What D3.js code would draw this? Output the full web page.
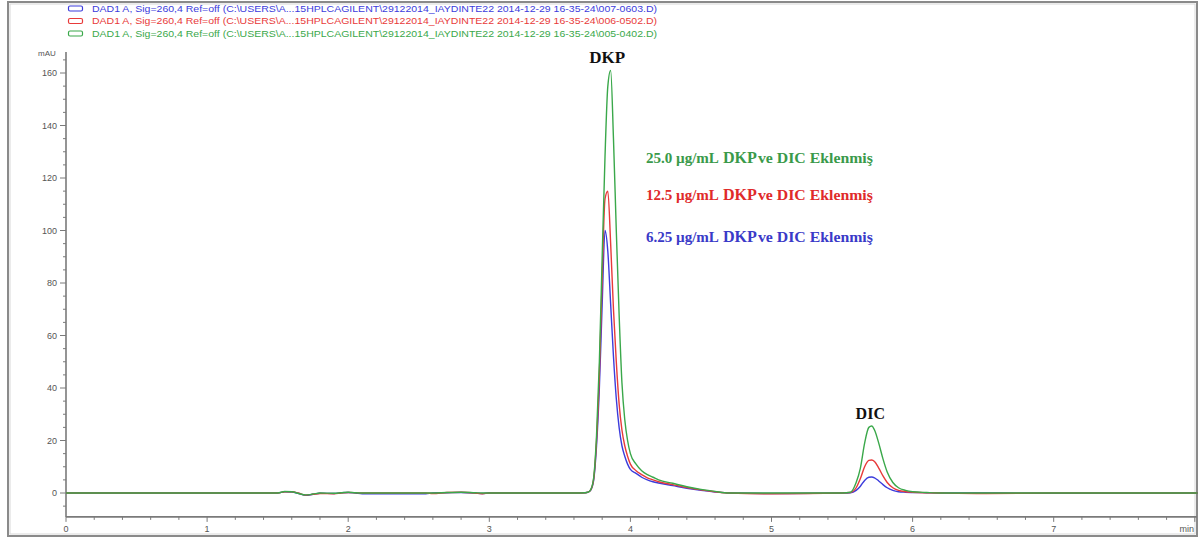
<!DOCTYPE html>
<html lang="en">
<head>
    <meta charset="UTF-8">
    <title>HPLC chromatogram</title>
    <script src="https://cdn.jsdelivr.net/npm/d3@7"></script>
    <style>
        body { margin: 0; background: #fff; }
        svg { display: block; }
    </style>
</head>
<body>
<svg id="chart" width="1198" height="540"></svg>
<script>
    // retention time grid (min), shared by the three runs
    var times = [0, 1.50, 1.55, 1.60, 1.65, 1.70, 1.75, 1.80, 1.90, 1.95, 2.00, 2.05, 2.10, 2.30, 2.55, 2.60, 2.70, 2.80, 2.90, 2.95, 3.00,
        3.50, 3.60, 3.68, 3.70, 3.72, 3.74, 3.76, 3.78, 3.80, 3.82, 3.84, 3.86, 3.88, 3.90, 3.92, 3.94, 3.96, 3.98, 4.00,
        4.04, 4.08, 4.12, 4.16, 4.20, 4.30, 4.40, 4.50, 4.60, 4.70, 5.00, 5.50, 5.56, 5.60, 5.63, 5.66, 5.69, 5.71, 5.73,
        5.76, 5.79, 5.82, 5.86, 5.90, 5.95, 6.00, 6.10, 6.20, 6.50, 7.00, 8.02];

    // absorbance (mAU)
    var blueRun = [0, 0, 0.5, 0.4, -0.2, -0.9, -0.5, -0.1, -0.2, 0.1, 0.2, 0, -0.3, -0.3, -0.3, 0, 0.1, 0.2, 0, -0.2, 0,
        0, 0, 0.1, 0.3, 1.2, 5, 18, 40, 72, 100, 92, 72, 52, 36, 25, 18, 14, 11, 9,
        7.5, 6, 5, 4.3, 3.8, 2.8, 1.8, 1.0, 0.4, 0, -0.2, 0, 0.1, 1, 2.6, 4.8, 6, 6.1, 5.8,
        4.6, 3.2, 2, 1, 0.5, 0.3, 0.2, 0.1, 0, 0, -0.1, 0];
    var redRun = [0, 0, 0.5, 0.5, -0.1, -0.8, -0.5, -0.2, -0.3, 0, 0.2, 0.1, 0, 0, 0, -0.2, 0.2, 0.3, 0, -0.3, 0,
        0, 0, 0.1, 0.3, 1.3, 5.5, 20, 45, 82, 112, 115, 95, 70, 50, 34, 24, 18, 14, 11,
        8.5, 7, 5.8, 5, 4.3, 3.2, 2.1, 1.2, 0.5, 0, -0.3, 0, 0.2, 2, 5.5, 10, 12.4, 12.6, 12,
        9.5, 6.5, 4, 2, 1, 0.5, 0.3, 0.1, 0, -0.2, 0, 0];
    var greenRun = [0, 0, 0.6, 0.5, -0.2, -0.7, -0.4, 0, -0.1, 0.1, 0.3, 0.1, 0, 0, 0, 0, 0.2, 0.3, 0.1, 0, 0,
        0, 0, 0.1, 0.3, 1.4, 6, 22, 50, 90, 128, 155, 161, 135, 100, 68, 42, 28, 20, 15,
        11, 8.5, 7, 6, 5, 3.7, 2.4, 1.4, 0.6, 0, 0, 0, 0.3, 4, 9.5, 19, 25, 25.5, 24,
        19, 13, 8, 4, 2, 1, 0.5, 0.2, 0, 0, 0, 0];

    var runColors = ["#3c3cdc", "#e83a3a", "#3aa84a"];
    var legendTexts = [
        "DAD1 A, Sig=260,4 Ref=off (C:\\USERS\\A...15HPLCAGILENT\\29122014_IAYDINTE22 2014-12-29 16-35-24\\007-0603.D)",
        "DAD1 A, Sig=260,4 Ref=off (C:\\USERS\\A...15HPLCAGILENT\\29122014_IAYDINTE22 2014-12-29 16-35-24\\006-0502.D)",
        "DAD1 A, Sig=260,4 Ref=off (C:\\USERS\\A...15HPLCAGILENT\\29122014_IAYDINTE22 2014-12-29 16-35-24\\005-0402.D)"
    ];

    var xTicks = [0, 1, 2, 3, 4, 5, 6, 7];
    var yTicks = [0, 20, 40, 60, 80, 100, 120, 140, 160];

    // concentration labels, placed next to the DKP peak
    var concLabels = ["25.0 µg/mL", "12.5 µg/mL", "6.25 µg/mL"];
    var concColors = ["#3a9a4a", "#e02a2a", "#3a3ac8"];
    var concLevels = [125.7, 111.6, 95.6];

    var svg = d3.select("#chart");

    var x = d3.scaleLinear().domain([0, 8]).range([66, 1194.8]);
    var y = d3.scaleLinear().domain([0, 160]).range([493, 73]);

    // outer frame
    svg.append("rect")
        .attr("x", 8).attr("y", 2)
        .attr("width", 1189).attr("height", 534)
        .attr("fill", "none")
        .attr("stroke", "#8a8a8a")
        .attr("stroke-width", 2);
    svg.append("rect")
        .attr("x", 10).attr("y", 4)
        .attr("width", 1185).attr("height", 530)
        .attr("fill", "none")
        .attr("stroke", "#d8d8d8")
        .attr("stroke-width", 1);

    // legend
    var legend = svg.append("g");
    legendTexts.forEach(function(t, i) {
        var cy = 8.5 + i * 12.5;
        legend.append("rect")
            .attr("x", 68.5).attr("y", cy - 2.5)
            .attr("width", 14).attr("height", 5)
            .attr("rx", 1.5)
            .attr("fill", "none")
            .attr("stroke", runColors[i])
            .attr("stroke-width", 1.2);
        legend.append("text")
            .attr("x", 92).attr("y", cy + 3.3)
            .attr("font-family", "Arial, 'Liberation Sans', sans-serif")
            .attr("font-size", "9.5px")
            .attr("fill", runColors[i])
            .attr("textLength", 565)
            .attr("lengthAdjust", "spacingAndGlyphs")
            .text(t);
    });

    var axisColor = "#7a7a7a";
    var labelFont = "Arial, 'Liberation Sans', sans-serif";

    // y axis
    var yTop = y(168), yBottom = y(-9.1);
    svg.append("line")
        .attr("x1", x(0)).attr("x2", x(0))
        .attr("y1", yTop).attr("y2", yBottom)
        .attr("stroke", axisColor).attr("stroke-width", 1.6);

    d3.range(-5, 170, 5).forEach(function(v) {
        var major = v % 20 === 0;
        svg.append("line")
            .attr("x1", x(0) - (major ? 6 : 3)).attr("x2", x(0))
            .attr("y1", y(v)).attr("y2", y(v))
            .attr("stroke", axisColor).attr("stroke-width", 1);
    });
    svg.selectAll(".ylab")
        .data(yTicks)
        .enter().append("text")
        .attr("class", "ylab")
        .attr("x", x(0) - 9)
        .attr("y", function(d) { return y(d) + 3; })
        .attr("text-anchor", "end")
        .attr("font-family", labelFont)
        .attr("font-size", "9px")
        .attr("fill", "#555")
        .text(function(d) { return d; });
    svg.append("text")
        .attr("x", 38).attr("y", 56)
        .attr("font-family", labelFont)
        .attr("font-size", "8px")
        .attr("fill", "#555")
        .text("mAU");

    // x axis
    svg.append("line")
        .attr("x1", x(0)).attr("x2", 1197)
        .attr("y1", yBottom).attr("y2", yBottom)
        .attr("stroke", axisColor).attr("stroke-width", 1.6);

    d3.range(0, 41).forEach(function(i) {
        var v = i * 0.2;
        var major = i % 5 === 0;
        if (x(v) > 1196) return;
        svg.append("line")
            .attr("x1", x(v)).attr("x2", x(v))
            .attr("y1", yBottom).attr("y2", yBottom + (major ? 5 : 3))
            .attr("stroke", axisColor).attr("stroke-width", 1);
    });
    svg.selectAll(".xlab")
        .data(xTicks)
        .enter().append("text")
        .attr("class", "xlab")
        .attr("x", function(d) { return x(d); })
        .attr("y", yBottom + 15)
        .attr("text-anchor", "middle")
        .attr("font-family", labelFont)
        .attr("font-size", "9px")
        .attr("fill", "#555")
        .text(function(d) { return d; });
    svg.append("text")
        .attr("x", 1194).attr("y", yBottom + 15)
        .attr("text-anchor", "end")
        .attr("font-family", labelFont)
        .attr("font-size", "9px")
        .attr("fill", "#555")
        .text("min");

    // traces
    var line = d3.line()
        .x(function(d) { return x(d[0]); })
        .y(function(d) { return y(d[1]); })
        .curve(d3.curveMonotoneX);

    [blueRun, redRun, greenRun].forEach(function(run, i) {
        svg.append("path")
            .datum(d3.zip(times, run))
            .attr("d", line)
            .attr("fill", "none")
            .attr("stroke", runColors[i])
            .attr("stroke-width", 1.4);
    });

    // peak names
    var serif = "'Times New Roman', 'Liberation Serif', serif";
    svg.append("text")
        .attr("x", x(3.835)).attr("y", 63)
        .attr("text-anchor", "middle")
        .attr("font-family", serif).attr("font-weight", "bold")
        .attr("font-size", "17px").attr("fill", "#111")
        .text("DKP");
    svg.append("text")
        .attr("x", x(5.70)).attr("y", 419)
        .attr("text-anchor", "middle")
        .attr("font-family", serif).attr("font-weight", "bold")
        .attr("font-size", "16px").attr("fill", "#111")
        .text("DIC");

    // concentration annotations: three pieces, stretched to the widths seen
    concLabels.forEach(function(c, i) {
        var x0 = x(4.11), yy = y(concLevels[i]);
        var g = svg.append("g")
            .attr("font-family", serif).attr("font-weight", "bold")
            .attr("fill", concColors[i]);
        g.append("text").attr("x", x0).attr("y", yy)
            .attr("font-size", "14.5px")
            .attr("textLength", 73).attr("lengthAdjust", "spacingAndGlyphs")
            .text(c);
        g.append("text").attr("x", x0 + 77).attr("y", yy)
            .attr("font-size", "17px")
            .attr("textLength", 34).attr("lengthAdjust", "spacingAndGlyphs")
            .text("DKP");
        g.append("text").attr("x", x0 + 112).attr("y", yy)
            .attr("font-size", "14.5px")
            .attr("textLength", 115).attr("lengthAdjust", "spacingAndGlyphs")
            .text("ve DIC Eklenmiş");
    });
</script>
</body>
</html>
